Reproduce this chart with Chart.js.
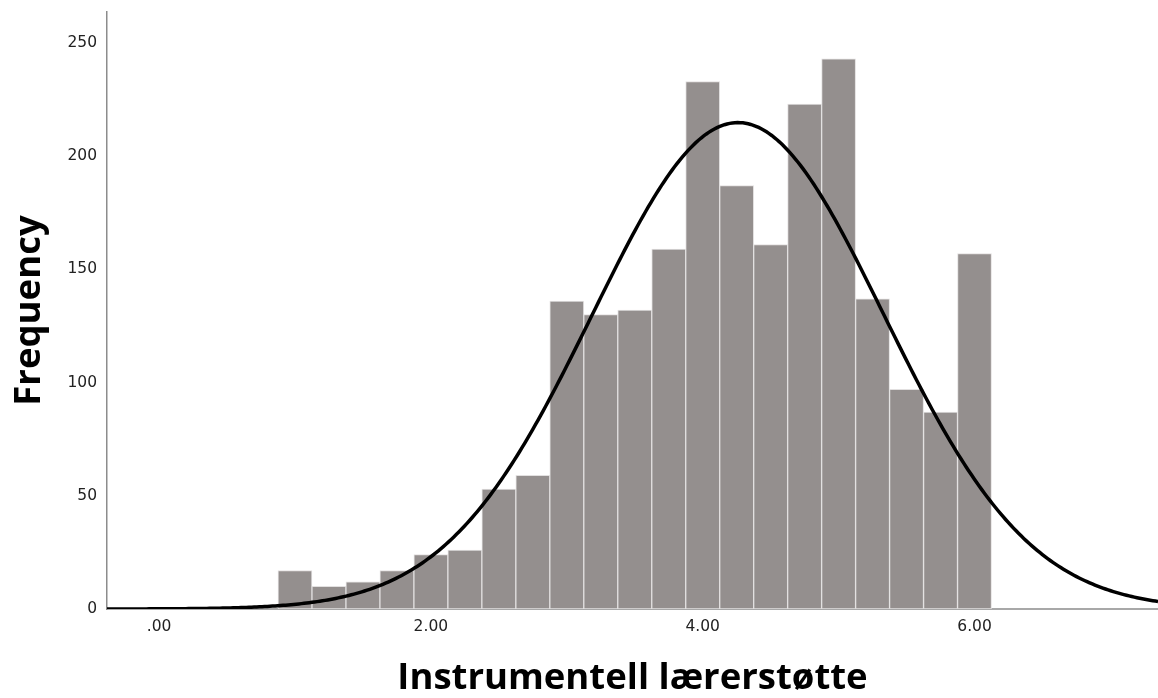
<!DOCTYPE html>
<html>
<head>
<meta charset="utf-8">
<script src="https://cdn.jsdelivr.net/npm/chart.js@4.4.1/dist/chart.umd.min.js"></script>
<style>
  html, body { margin: 0; padding: 0; background: #ffffff; }
  #wrap { position: relative; width: 1158px; height: 698px; }
</style>
</head>
<body>
<div id="wrap"><canvas id="hist"></canvas></div>
<script>
// Histogram bins (centre of each 0.25-wide bin) and their counts
const binCenters = [1.00, 1.25, 1.50, 1.75, 2.00, 2.25, 2.50, 2.75, 3.00, 3.25, 3.50,
                    3.75, 4.00, 4.25, 4.50, 4.75, 5.00, 5.25, 5.50, 5.75, 6.00];
const frequencies = [17, 10, 12, 17, 24, 26, 53, 59, 136, 130, 132,
                     159, 233, 187, 161, 223, 243, 137, 97, 87, 157];
const binWidth = 0.25;

// Fitted normal curve parameters
const curveMean = 4.26;
const curveSD = 1.07;
const curveN = 2305;

// Axis ticks
const xTickValues = [0, 2, 4, 6];
const xTickLabels = ['.00', '2.00', '4.00', '6.00'];
const yTickValues = [0, 50, 100, 150, 200, 250];

const xMin = -0.383, xMax = 7.35;
const yMin = 0, yMax = 263.7;

// Normal density scaled to counts per bin
function normalCount(x) {
  const z = (x - curveMean) / curveSD;
  return curveN * binWidth * Math.exp(-0.5 * z * z) / (curveSD * Math.sqrt(2 * Math.PI));
}
const curvePoints = [];
const steps = 400;
for (let i = 0; i <= steps; i++) {
  const x = xMin + (xMax - xMin) * i / steps;
  curvePoints.push({ x: x, y: normalCount(x) });
}

const barPoints = binCenters.map((c, i) => ({ x: c, y: frequencies[i] }));

const tickFont = { family: 'DejaVu Sans', size: 15.5 };
const titleFont = { family: 'Open Sans', size: 36.5, weight: 'bold', lineHeight: 1 };

new Chart(document.getElementById('hist'), {
  type: 'bar',
  data: {
    datasets: [
      {
        type: 'line',
        data: curvePoints,
        borderColor: '#000000',
        borderWidth: 3.5,
        pointRadius: 0,
        tension: 0,
        fill: false,
        order: 0
      },
      {
        type: 'bar',
        data: barPoints,
        backgroundColor: '#948f8e',
        borderColor: '#e2e0e0',
        borderWidth: 1,
        borderSkipped: false,
        barPercentage: 1.0,
        categoryPercentage: 1.0,
        order: 1
      }
    ]
  },
  options: {
    responsive: true,
    maintainAspectRatio: false,
    animation: false,
    layout: { padding: { top: 12, right: 0, bottom: 0, left: 0 } },
    plugins: {
      legend: { display: false },
      tooltip: { enabled: false }
    },
    scales: {
      x: {
        type: 'linear',
        min: xMin,
        max: xMax,
        offset: false,
        grid: { display: false, drawTicks: false },
        border: { display: true, color: '#a8a8a8', width: 2 },
        afterBuildTicks: (scale) => { scale.ticks = xTickValues.map(v => ({ value: v })); },
        afterFit: (scale) => {
          scale.height = 89;
          scale.paddingLeft = 0;
          scale.paddingRight = 0;
        },
        ticks: {
          autoSkip: false,
          maxRotation: 0,
          padding: 9,
          color: '#222222',
          font: tickFont,
          callback: (value) => {
            const idx = xTickValues.indexOf(value);
            return idx >= 0 ? xTickLabels[idx] : '';
          }
        },
        title: {
          display: true,
          text: 'Instrumentell lærerstøtte',
          color: '#000000',
          font: titleFont,
          padding: { top: 0, bottom: 1 }
        }
      },
      y: {
        type: 'linear',
        min: yMin,
        max: yMax,
        grid: { display: false, drawTicks: false },
        border: { display: true, color: '#8c8c8c', width: 1.5 },
        afterBuildTicks: (scale) => { scale.ticks = yTickValues.map(v => ({ value: v })); },
        afterFit: (scale) => {
          scale.width = 107;
          scale.paddingTop = 0;
          scale.paddingBottom = 0;
        },
        ticks: {
          padding: 10,
          color: '#222222',
          font: tickFont
        },
        title: {
          display: true,
          text: 'Frequency',
          color: '#000000',
          font: titleFont,
          padding: { top: 11, bottom: 0 }
        }
      }
    }
  }
});
</script>
</body>
</html>
